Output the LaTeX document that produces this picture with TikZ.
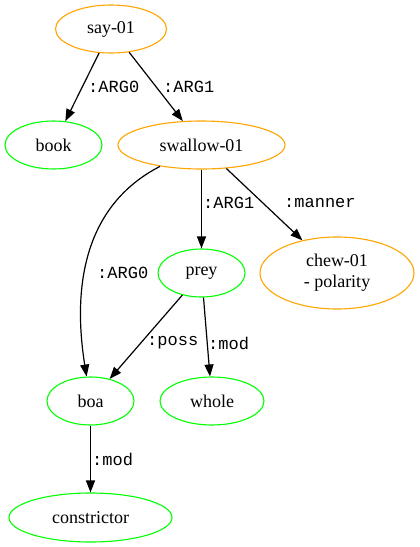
\documentclass[tikz,border=0pt]{standalone}
\usepackage{fontspec}
\setmainfont{Liberation Serif}
\setmonofont{Liberation Mono}
\usetikzlibrary{shapes.geometric,arrows.meta}
\definecolor{evorange}{RGB}{255,165,0}
\definecolor{cgreen}{RGB}{0,255,0}
\begin{document}
\begin{tikzpicture}[x=1pt,y=-1pt,
  nd/.style={ellipse, draw, line width=1.1pt, inner sep=0pt, font=\fontsize{18}{21}\selectfont, align=center},
  ev/.style={nd, draw=evorange},
  cn/.style={nd, draw=cgreen},
  edge/.style={line width=1.2pt, -{Triangle[length=12pt,width=9pt]}},
  lbl/.style={anchor=west, font=\ttfamily\fontsize{17}{19}\selectfont, inner sep=0pt}]
\useasboundingbox (0,0) rectangle (420,547);
\fill[white] (0,0) rectangle (420,547);
\node[ev, minimum width=111, minimum height=48] (say) at (111,29) {say-01};
\node[cn, minimum width=97, minimum height=48] (book) at (53.5,145) {book};
\node[ev, minimum width=167, minimum height=48] (swallow) at (201.5,145) {swallow-01};
\node[cn, minimum width=87, minimum height=48] (prey) at (201.5,273) {prey};
\node[ev, minimum width=154, minimum height=72] (chew) at (337,273) {chew-01\\- polarity};
\node[cn, minimum width=87, minimum height=48] (boa) at (90.5,401) {boa};
\node[cn, minimum width=104, minimum height=48] (whole) at (212,401) {whole};
\node[cn, minimum width=163, minimum height=49] (constrictor) at (90.5,517.5) {constrictor};

\draw[edge] (say) -- (book);
\draw[edge] (say) -- (swallow);
\draw[edge] (swallow) .. controls (85,205) and (72,285) .. (boa);
\draw[edge] (swallow) -- (prey);
\draw[edge] (swallow) -- (chew);
\draw[edge] (prey) -- (boa);
\draw[edge] (prey) -- (whole);
\draw[edge] (boa) -- (constrictor);

\node[lbl] (l1) at (88,87) {:ARG0};
\node[lbl] (l2) at (163,87) {:ARG1};
\node[lbl] (l3) at (97,273) {:ARG0};
\node[lbl] (l4) at (203,203) {:ARG1};
\node[lbl] (l5) at (284,203) {:manner};
\node[lbl] (l6) at (147,343) {:poss};
\node[lbl] (l7) at (208,343) {:mod};
\node[lbl] (l8) at (92,459) {:mod};
\end{tikzpicture}
\end{document}
